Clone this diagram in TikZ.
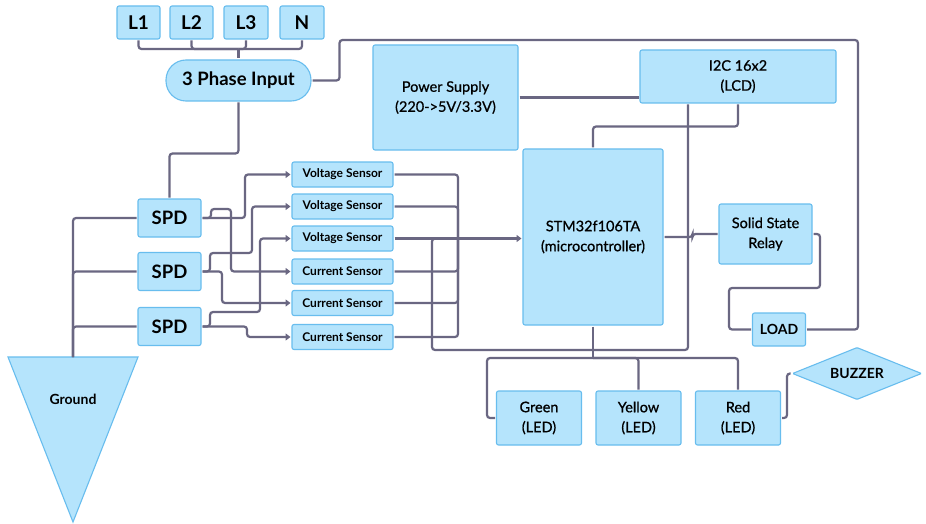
\documentclass[tikz,border=0pt]{standalone}
\usepackage{fontspec}
\setmainfont{Lato}
\newfontfamily\medfont[FakeBold=0.8]{Lato}
\usepackage{tikz}
\usetikzlibrary{arrows.meta,positioning,shapes.geometric}
\definecolor{boxfill}{HTML}{B5E4FC}
\definecolor{boxline}{HTML}{68BDEE}
\definecolor{wirec}{HTML}{6A6782}

\begin{document}
\begin{tikzpicture}[
    x=1pt, y=-1pt,
    box/.style={draw=boxline, fill=boxfill, line width=1.1pt, rounded corners=2pt, align=center, inner sep=1pt, outer sep=1.5pt, font=\medfont\fontsize{14.5}{20}\selectfont},
    pin/.style={box, minimum width=43, minimum height=33, font=\fontsize{19}{22}\selectfont\bfseries},
    spdbox/.style={box, minimum width=63, minimum height=38, font=\fontsize{18.5}{22}\selectfont\bfseries},
    sensor/.style={box, minimum width=101, minimum height=25, font=\fontsize{12}{14}\selectfont\bfseries},
    ledbox/.style={box, minimum width=85, minimum height=54},
    wire/.style={draw=wirec, line width=2.2pt, rounded corners=3pt},
    arrow/.style={wire, -{Triangle[length=5pt, width=7pt]}}
]
\useasboundingbox[fill=white] (0,0) rectangle (926,524);

\node[pin] (l1) at (138.5,22.5) {L1};
\node[pin] (l2) at (191.5,22.5) {L2};
\node[pin, minimum width=44] (l3) at (246,22.5) {L3};
\node[pin, minimum width=44] (n) at (302,22.5) {N};
\node[box, minimum width=145, minimum height=41, rounded corners=20pt, font=\fontsize{18.5}{22}\selectfont\bfseries] (phase) at (238.5,80.5) {3 Phase Input};

\node[spdbox] (spd1) at (169.5,218) {SPD};
\node[spdbox] (spd2) at (169.5,271.5) {SPD};
\node[spdbox] (spd3) at (169.5,326.5) {SPD};

\node[sensor] (vs1) at (342.5,174.5) {Voltage Sensor};
\node[sensor] (vs2) at (342.5,206.5) {Voltage Sensor};
\node[sensor] (vs3) at (342.5,238.5) {Voltage Sensor};
\node[sensor] (cs1) at (342.5,271.5) {Current Sensor};
\node[sensor] (cs2) at (342.5,303) {Current Sensor};
\node[sensor] (cs3) at (342.5,337) {Current Sensor};

\node[box, minimum width=145, minimum height=105] (ps) at (445.5,97.5) {Power Supply\\(220->5V/3.3V)};
\node[box, minimum width=196, minimum height=53] (lcd) at (738,76.5) {I2C 16x2\\(LCD)};
\node[box, minimum width=140, minimum height=176] (mcu) at (593,237) {STM32f106TA\\(microcontroller)};
\node[box, minimum width=93, minimum height=60] (ssr) at (765.5,234) {Solid State\\Relay};
\node[box, minimum width=53, minimum height=33, font=\fontsize{14}{16}\selectfont\bfseries] (load) at (779,329.5) {LOAD};
\node[ledbox] (green) at (539,418) {Green\\(LED)};
\node[ledbox] (yellow) at (638.5,418) {Yellow\\(LED)};
\node[ledbox] (red) at (738,418) {Red\\(LED)};
\node[box, shape=diamond, aspect=2.4, rounded corners=1pt, minimum width=130, minimum height=53, font=\fontsize{14}{16}\selectfont\bfseries] (buzz) at (857,373.5) {BUZZER};

\draw[draw=boxline, fill=boxfill, line width=1.1pt] (8,357) -- (138,357) -- (73,522) -- cycle;
\node[font=\fontsize{14}{16}\selectfont\bfseries] (gnd) at (73,399) {Ground};
\coordinate (gndtop) at (73,357);

\coordinate (jn) at (238.5,49);
\draw[wire] (l1.south) |- (jn);
\draw[wire] (l2.south) |- (jn);
\draw[wire] (l3.south) |- (jn);
\draw[wire] (n.south) |- (jn);
\draw[wire] (jn) -- (phase.north);

\draw[wire] (phase.east) -- ++(27,0) |- (858,40) |- (load.east);
\draw[wire] (phase.south) -- ++(0,51) -| (spd1.north);

\draw[wire] (spd1.west) -| (gndtop);
\draw[wire] (spd2.west) -| (gndtop);
\draw[wire] (spd3.west) -| (gndtop);

\draw[arrow] (spd1.east) -- (245,218) |- (vs1.west);
\draw[arrow] (spd1.east) -- (211,218) -- (211,209) -- (231,209) |- (cs1.west);
\draw[arrow] (spd2.east) -- (210,271.5) -- (210,253) -- (252,253) |- (vs2.west);
\draw[arrow] (spd2.east) -- (222,271.5) |- (cs2.west);
\draw[arrow] (spd3.east) -- (210,326.5) -- (210,312) -- (260,312) |- (vs3.west);
\draw[arrow] (spd3.east) -- (247,326.5) |- (cs3.west);

\coordinate (bus) at (458,238.5);
\draw[wire] (vs1.east) -| (bus);
\draw[wire] (vs2.east) -| (bus);
\draw[wire] (cs1.east) -| (bus);
\draw[wire] (cs2.east) -| (bus);
\draw[wire] (cs3.east) -| (bus);
\draw[arrow] (vs3.east) -- (vs3.east -| mcu.west);

\draw[wire] ([xshift=-50pt]lcd.south) |- (432,350) |- (bus);
\draw[wire] (lcd.south) -- ++(0,22) -| (mcu.north);
\draw[wire] (ps.east) -- (ps.east -| lcd.west);
\draw[wire] (mcu.east) -- ++(28,0) |- (ssr.west);
\draw[wire] (ssr.east) -| (820,288) -| (729,329.5) -- (load.west);

\coordinate (ledj) at (593,358);
\draw[wire] (mcu.south) -- (ledj);
\draw[wire] (ledj) -- (487,358) |- (green.west);
\draw[wire] (ledj) -| (yellow.north);
\draw[wire] (ledj) -| (red.north);
\draw[wire] (red.east) -- (787,418) |- (buzz.west);
\end{tikzpicture}
\end{document}
